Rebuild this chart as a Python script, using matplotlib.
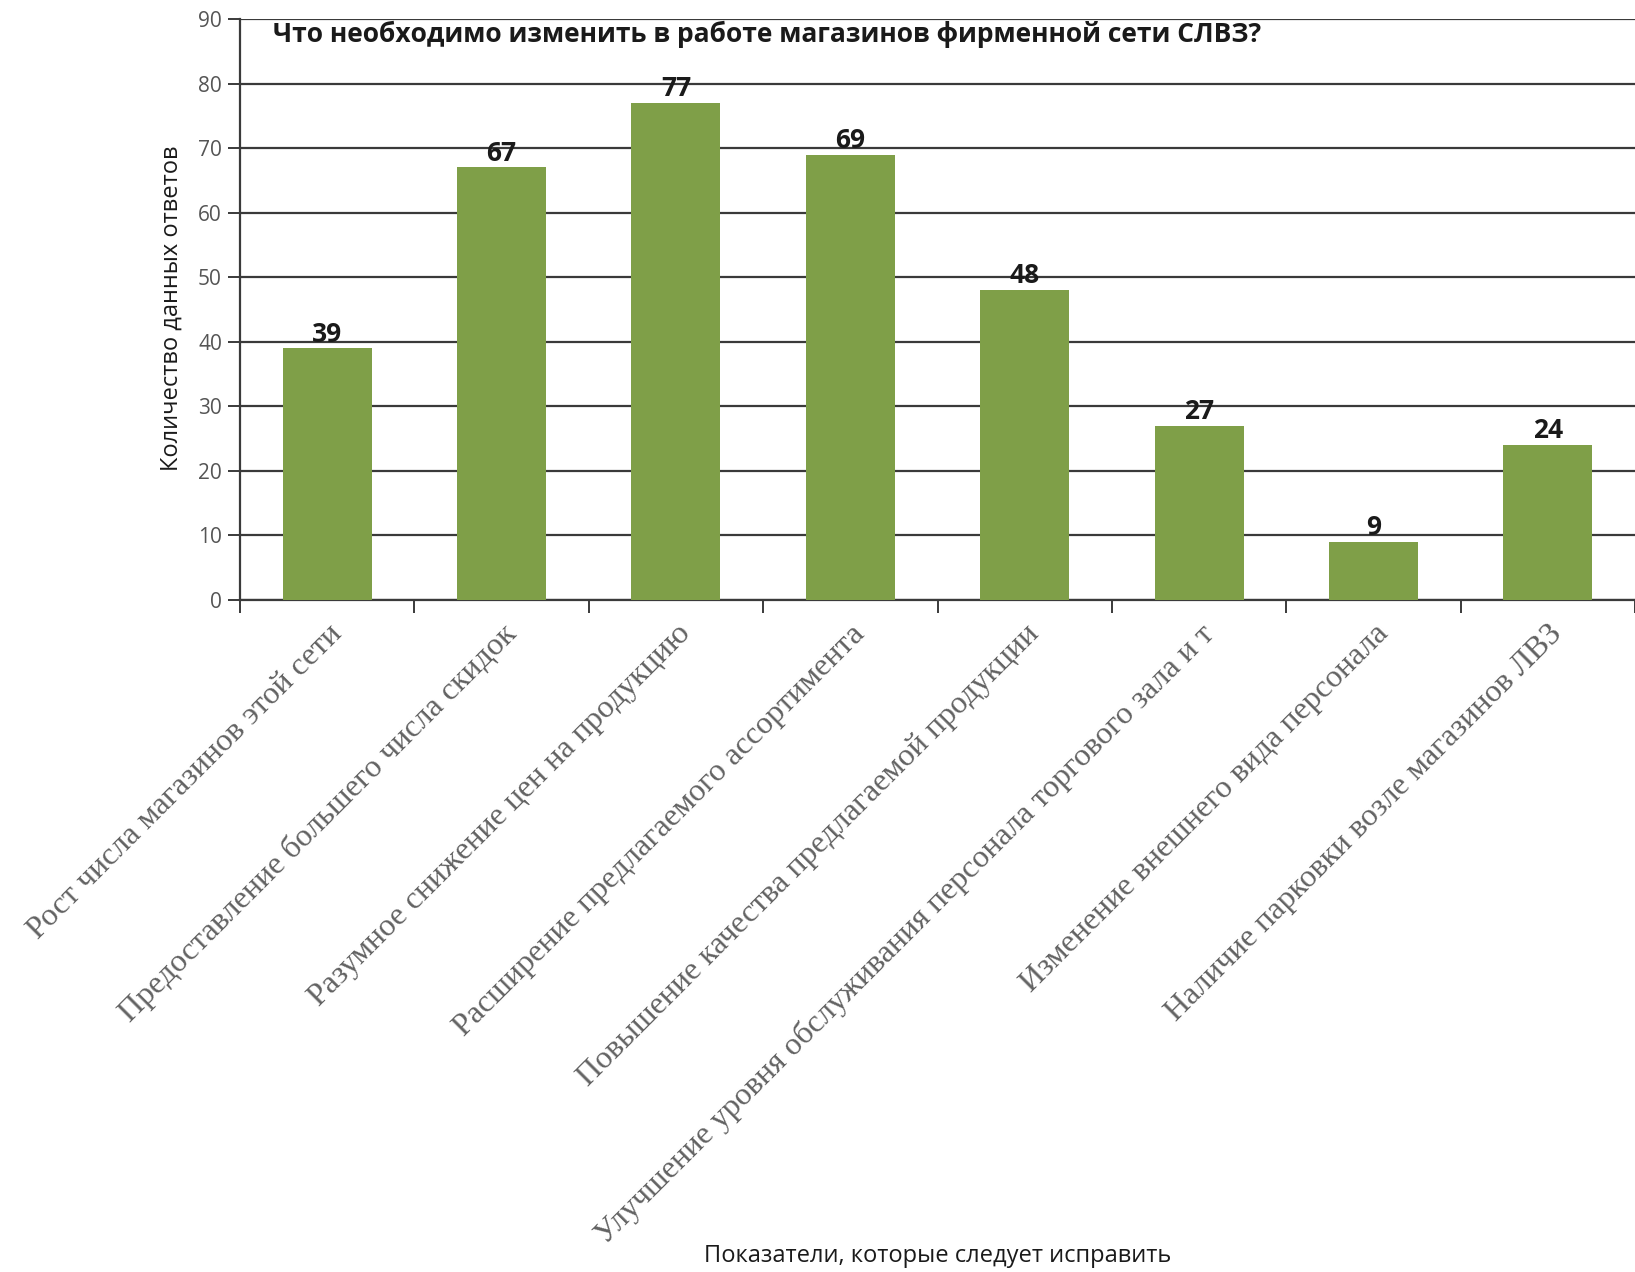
import matplotlib
matplotlib.use("Agg")
import matplotlib.pyplot as plt
import numpy as np

# данные опроса
categories = [
    "Рост числа магазинов этой сети",
    "Предоставление большего числа скидок",
    "Разумное снижение цен на продукцию",
    "Расширение предлагаемого ассортимента",
    "Повышение качества предлагаемой продукции",
    "Улучшение уровня обслуживания персонала торгового зала и т",
    "Изменение внешнего вида персонала",
    "Наличие парковки возле магазинов ЛВЗ",
]
values = [39, 67, 77, 69, 48, 27, 9, 24]
yticks = list(range(0, 91, 10))

TITLE = "Что необходимо изменить в работе магазинов фирменной сети СЛВЗ?"
YLAB = "Количество данных ответов"
XLAB = "Показатели, которые следует исправить"

W, H = 1635, 1272
fig = plt.figure(figsize=(W/100, H/100), dpi=100, facecolor="white")
ax = fig.add_axes([240/W, 1-600/H, 1-240/W, (600-19)/H])

x = np.arange(len(values))
ax.bar(x, values, width=0.51, color="#7f9f48", zorder=3)
for xi, v in zip(x, values):
    ax.text(xi, v+0.1, str(v), ha="center", va="bottom", fontsize=19, fontweight="bold",
            family="Open Sans", color="#1a1a1a", zorder=4)

ax.set_xlim(-0.5, len(values)-0.5); ax.set_ylim(0, 90)
ax.set_yticks(yticks)
ax.set_yticklabels([str(t) for t in yticks], fontsize=15, color="#555555", family="Open Sans")
ax.yaxis.grid(True, color="#3a3a3a", lw=1.6, zorder=1)
ax.set_axisbelow(True)
ax.set_xticks(np.arange(len(values)+1)-0.5, minor=False)
ax.set_xticklabels([])
ax.set_xticks(x, minor=True)
ax.set_xticklabels(categories, minor=True, rotation=45, ha="right", rotation_mode="anchor",
                   fontsize=23, family="Liberation Serif", color="#626262")
ax.tick_params(axis="x", which="minor", length=0, pad=14)
ax.tick_params(axis="x", which="major", length=9, width=1.4, color="#3a3a3a", direction="out")
ax.tick_params(axis="y", length=9, width=1.4, color="#3a3a3a", pad=4)
for s in ["top", "right"]: ax.spines[s].set_visible(False)
ax.spines["left"].set_color("#3a3a3a"); ax.spines["left"].set_linewidth(1.6)
ax.spines["bottom"].set_color("#3a3a3a"); ax.spines["bottom"].set_linewidth(1.6)

ax.text(0.024, 0.997, TITLE, transform=ax.transAxes, ha="left", va="top", fontsize=19,
        fontweight="bold", family="Open Sans", color="#1a1a1a")
fig.text(172/W, 1-308/H, YLAB, rotation=90, ha="center", va="center", fontsize=17,
         family="Open Sans", color="#1a1a1a")
fig.text(938/W, 1-1256/H, XLAB, ha="center", va="center", fontsize=17,
         family="Open Sans", color="#1a1a1a")

fig.savefig("out.png", dpi=100, facecolor="white")
